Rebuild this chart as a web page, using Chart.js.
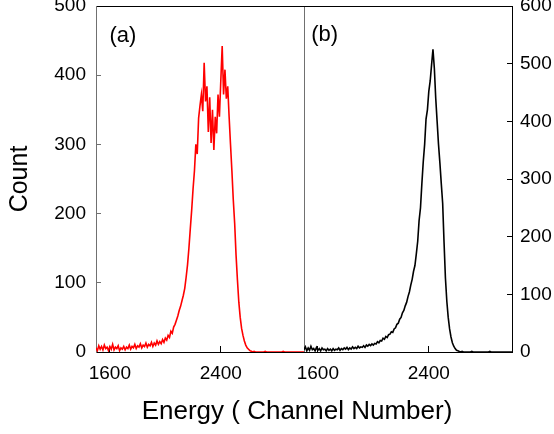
<!DOCTYPE html>
<html><head><meta charset="utf-8">
<script src="https://cdn.jsdelivr.net/npm/chart.js@4/dist/chart.umd.min.js"></script>
<style>html,body{margin:0;padding:0;background:#fff;} #wrap{width:554px;height:434px;position:relative;}</style>
</head><body><div id="wrap"><canvas id="c" width="554" height="434"></canvas></div>
<script>
// ---- data ----
const channels = [
1500,1510,1520,1530,1540,1550,1560,1570,1580,1590,
1600,1610,1620,1630,1640,1650,1660,1670,1680,1690,
1700,1710,1720,1730,1740,1750,1760,1770,1780,1790,
1800,1810,1820,1830,1840,1850,1860,1870,1880,1890,
1900,1910,1920,1930,1940,1950,1960,1970,1980,1990,
2000,2010,2020,2030,2040,2050,2060,2070,2080,2090,
2100,2110,2120,2130,2140,2150,2160,2170,2180,2190,
2200,2210,2220,2230,2240,2250,2260,2270,2280,2290,
2300,2310,2320,2330,2340,2350,2360,2370,2380,2390,
2400,2410,2420,2430,2440,2450,2460,2470,2480,2490,
2500,2510,2520,2530,2540,2550,2560,2570,2580,2590,
2600,2610,2620,2630,2640,2650,2660,2670,2680,2690,
2700,2710,2720,2730,2740,2750,2760,2770,2780,2790,
2800,2810,2820,2830,2840,2850,2860,2870,2880,2890,
2900,2910,2920,2930,2940,2950,2960,2970,2980,2990,
3000];
const countsA = [
6,2,9,4,8,3,10,5,7,2,
8,4,11,3,7,5,9,2,6,4,
8,3,7,5,10,4,8,6,11,5,
9,7,12,6,10,8,13,7,11,9,
14,8,13,10,16,11,15,12,18,14,
20,17,24,21,30,27,36,40,46,52,
60,66,74,82,92,108,126,150,178,205,
236,262,300,286,338,356,372,348,418,362,
384,318,368,302,350,292,340,316,372,340,
392,442,372,408,366,384,340,300,262,220,
186,140,104,72,50,34,24,16,10,6,
4,2,1,0,1,0,0,0,0,0,
0,0,1,0,0,0,0,0,0,0,
0,0,0,0,0,1,0,0,0,0,
0,0,0,0,0,0,0,0,0,0,
0];
const countsB = [
4,9,2,7,3,10,4,6,2,8,
3,6,2,7,4,5,2,6,3,5,
2,6,3,5,4,7,3,6,4,7,
5,8,4,7,5,9,6,8,6,10,
7,9,8,11,8,12,10,13,11,14,
12,15,14,18,16,20,19,24,22,27,
25,30,31,35,34,40,42,48,50,57,
60,68,72,80,86,96,104,116,126,140,
150,170,192,228,250,292,330,360,404,420,
452,470,498,525,492,440,400,360,328,292,
258,190,128,88,60,40,26,16,10,6,
3,2,1,0,1,0,0,0,0,0,
0,1,0,0,0,0,0,0,0,0,
0,0,0,0,1,0,0,0,0,0,
0,0,0,0,0,0,0,0,0,0,
0];
const xTickValues = [1600, 2400];
const yTicksA = [0, 100, 200, 300, 400, 500];
const yTicksB = [0, 100, 200, 300, 400, 500, 600];
const panelNames = ['(a)', '(b)'];
const panelNameX = [1597, 1552];
const panelNameY = [457, 549];
const xTitle = 'Energy ( Channel Number)';
const yTitle = 'Count';

// ---- chart ----
const FONT = "'Liberation Sans', Arial, Helvetica, sans-serif";
Chart.defaults.font.family = FONT;
Chart.defaults.color = '#000';
const GRAY = '#707070';

function fix(w, h) {
  return function (s) {
    if (w !== undefined) s.width = w;
    if (h !== undefined) s.height = h;
    s.paddingLeft = 0; s.paddingRight = 0; s.paddingTop = 0; s.paddingBottom = 0;
  };
}
const tickFont = {family: FONT, size: 19};

const panelPlugin = {
  id: 'panelNames',
  afterLayout(chart) {
    const s = chart.scales.xt;
    s.left -= 14;
  },
  afterDatasetsDraw(chart) {
    const ctx = chart.ctx;
    const xs = [chart.scales.x1, chart.scales.x2];
    const ys = [chart.scales.yL, chart.scales.yR];
    ctx.save();
    ctx.font = '22px ' + FONT;
    ctx.fillStyle = '#000';
    ctx.textAlign = 'left';
    ctx.textBaseline = 'middle';
    for (let i = 0; i < panelNames.length; i++) {
      ctx.fillText(panelNames[i], xs[i].getPixelForValue(panelNameX[i]), ys[i].getPixelForValue(panelNameY[i]));
    }
    ctx.restore();
  }
};

new Chart(document.getElementById('c'), {
  type: 'line',
  data: {
    datasets: [
      {
        label: '(a)',
        data: channels.map((c, i) => ({x: c, y: countsA[i]})),
        xAxisID: 'x1', yAxisID: 'yL',
        borderColor: '#ff0000', borderWidth: 1.6, pointRadius: 0, tension: 0, fill: false
      },
      {
        label: '(b)',
        data: channels.map((c, i) => ({x: c, y: countsB[i]})),
        xAxisID: 'x2', yAxisID: 'yR',
        borderColor: '#000000', borderWidth: 1.6, pointRadius: 0, tension: 0, fill: false
      }
    ]
  },
  options: {
    responsive: false,
    animation: false,
    events: [],
    layout: {padding: {top: 6, left: 0, right: 0, bottom: 0}},
    plugins: {legend: {display: false}, tooltip: {enabled: false}, title: {display: false}},
    scales: {
      x1: {
        type: 'linear', position: 'bottom', stack: 'xs', weight: 0,
        min: 1500, max: 3000,
        afterBuildTicks: s => { s.ticks = xTickValues.map(v => ({value: v})); },
        ticks: {font: tickFont, color: '#000', padding: 16, maxRotation: 0, autoSkip: false, callback: v => String(v)},
        grid: {drawOnChartArea: false, tickLength: -6, tickColor: '#000'},
        border: {color: '#000', width: 1},
        afterFit: fix(undefined, 40)
      },
      x2: {
        type: 'linear', position: 'bottom', stack: 'xs', weight: 0,
        min: 1500, max: 3000,
        afterBuildTicks: s => { s.ticks = [1500].concat(xTickValues).map(v => ({value: v})); },
        ticks: {font: tickFont, color: '#000', padding: 16, maxRotation: 0, autoSkip: false, callback: v => (v === 1500 ? '' : String(v))},
        grid: {
          drawOnChartArea: true, tickLength: -6,
          color: c => (c.tick && c.tick.value === 1500 ? GRAY : 'rgba(0,0,0,0)'),
          tickColor: c => (c.tick && c.tick.value === 1500 ? GRAY : '#000')
        },
        border: {color: '#000', width: 1},
        afterFit: fix(undefined, 40)
      },
      xt: {
        type: 'linear', position: 'bottom', weight: 1, min: 0, max: 1, display: true,
        ticks: {display: false},
        grid: {display: false, drawTicks: false},
        border: {display: false},
        title: {display: true, text: xTitle, color: '#000', font: {family: FONT, size: 26}, padding: {top: 0, bottom: 7}},
        afterFit: fix(undefined, 42)
      },
      xtop: {
        type: 'linear', position: 'top', min: 0, max: 1, display: true,
        ticks: {display: false},
        grid: {display: false, drawTicks: false},
        border: {display: true, color: '#000', width: 1},
        afterFit: fix(undefined, 0)
      },
      yL: {
        type: 'linear', position: 'left', min: 0, max: 500,
        afterBuildTicks: s => { s.ticks = yTicksA.map(v => ({value: v})); },
        ticks: {font: tickFont, color: '#000', padding: 15, callback: v => String(v)},
        grid: {drawOnChartArea: false, tickLength: -5, tickColor: GRAY},
        border: {color: GRAY, width: 1},
        title: {display: true, text: yTitle, color: '#000', font: {family: FONT, size: 25}, padding: {top: 5, bottom: 0}},
        afterFit: fix(96)
      },
      yR: {
        type: 'linear', position: 'right', min: 0, max: 600,
        afterBuildTicks: s => { s.ticks = yTicksB.map(v => ({value: v})); },
        ticks: {font: tickFont, color: '#000', padding: 13, callback: v => String(v)},
        grid: {drawOnChartArea: false, tickLength: -5, tickColor: '#000'},
        border: {color: '#000', width: 1},
        afterFit: fix(42)
      }
    }
  },
  plugins: [panelPlugin]
});
</script>
</body></html>
